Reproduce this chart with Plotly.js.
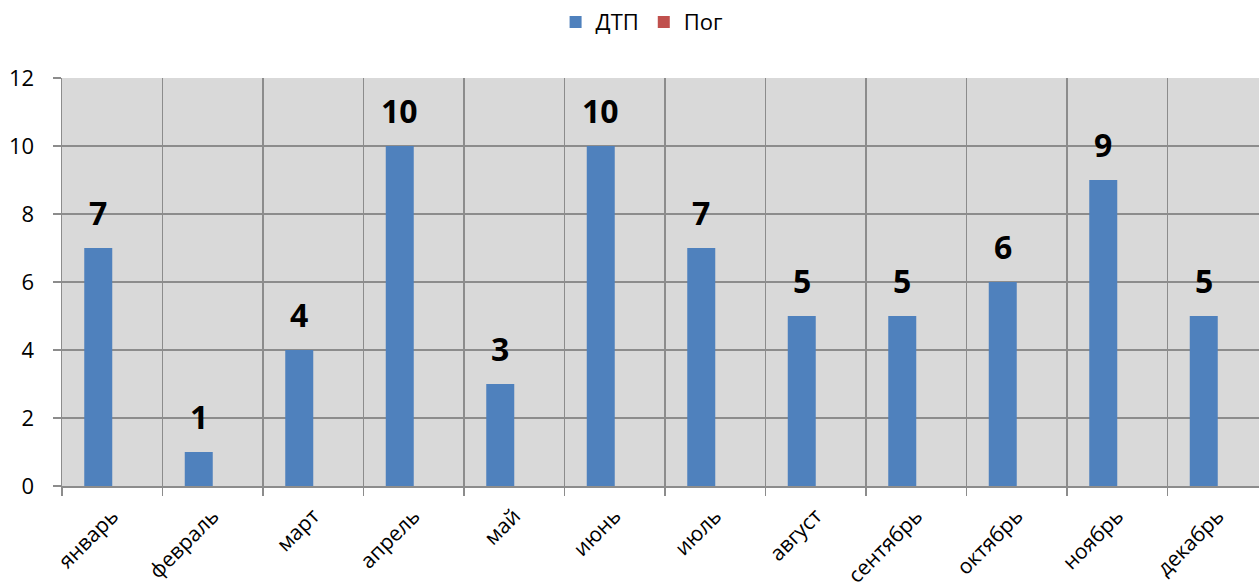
<!DOCTYPE html>
<html><head><meta charset="utf-8">
<script src="https://cdn.plot.ly/plotly-3.0.1.min.js"></script>
<style>html,body{margin:0;padding:0;overflow:hidden;background:#fff}#chart{width:1268px;height:588px}</style>
</head><body><div id="chart"></div>
<script>
const months = ["январь","февраль","март","апрель","май","июнь","июль","август","сентябрь","октябрь","ноябрь","декабрь"];
const dtp = [7,1,4,10,3,10,7,5,5,6,9,5];
const pog = [0,0,0,0,0,0,0,0,0,0,0,0];
const yTicks = [0,2,4,6,8,10,12];

const FONT = "Open Sans, Liberation Sans, sans-serif";
const data = [
  {type:"bar", name:"ДТП", x:months, y:dtp, marker:{color:"#4f81bd"}, hoverinfo:"x+y"},
  {type:"bar", name:"Пог", x:months, y:pog, marker:{color:"#c0504d"}, hoverinfo:"x+y"}
];
const annotations = months.map((m,i)=>({
  x:m, y:dtp[i], xref:"x", yref:"y", text:String(dtp[i]), showarrow:false,
  yanchor:"bottom", yshift:12, xshift:-14,
  font:{family:FONT, size:32, color:"#000", weight:"bold"}
}));
const layout = {
  width:1268, height:588,
  margin:{l:62, r:0, t:78, b:102},
  paper_bgcolor:"#fff", plot_bgcolor:"#d9d9d9",
  barmode:"group", bargap:0.443, bargroupgap:0,
  showlegend:true,
  legend:{orientation:"h", x:0.481, xanchor:"center", y:1.137, yanchor:"middle",
    font:{family:FONT, size:22, color:"#000"}, itemwidth:30, traceorder:"normal"},
  xaxis:{type:"category", tickson:"boundaries", showgrid:true, gridcolor:"#8c8c8c", gridwidth:1.5,
    showline:true, linecolor:"#8c8c8c", linewidth:1.5, ticks:"outside", ticklen:8, tickcolor:"#8c8c8c", tickwidth:1.5,
    tickangle:-45, tickfont:{family:FONT, size:21, color:"#000"}, ticklabelstandoff:8, fixedrange:true},
  yaxis:{range:[0,12], tickvals:yTicks, ticktext:yTicks.map(String), showgrid:true, gridcolor:"#8c8c8c", gridwidth:1.5,
    showline:true, linecolor:"#8c8c8c", linewidth:1.5, ticks:"outside", ticklen:8, tickcolor:"#8c8c8c", tickwidth:1.5,
    zeroline:false, tickfont:{family:FONT, size:22, color:"#000"}, ticklabelstandoff:14},
  annotations:annotations
};
Plotly.newPlot("chart", data, layout, {displayModeBar:false, staticPlot:true});
</script></body></html>
